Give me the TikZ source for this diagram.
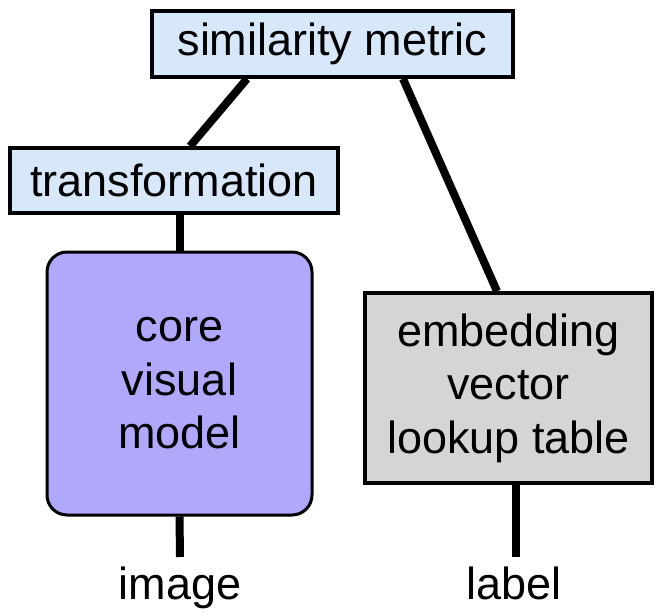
\documentclass[tikz,border=0pt]{standalone}
\usepackage{fontspec}
\setmainfont{Liberation Sans}
\definecolor{boxblue}{RGB}{214,232,250}
\definecolor{corepurple}{RGB}{176,168,250}
\definecolor{boxgray}{RGB}{213,213,213}
\begin{document}
\begin{tikzpicture}[x=1pt,y=-1pt,
  every node/.style={font=\fontsize{45}{53.5}\selectfont, inner sep=0pt},
  blbox/.style={draw=black, line width=3.5pt, fill=boxblue, minimum height=66pt},
  corebox/.style={draw=black, line width=3pt, fill=corepurple, rounded corners=20pt, align=center},
  grbox/.style={draw=black, line width=3.5pt, fill=boxgray, align=center},
  conn/.style={line width=8pt, black},
  lbl/.style={anchor=base}]
\useasboundingbox (0,0) rectangle (654,614);
\node[blbox, minimum width=361pt] (sim) at (332.5,44) {similarity metric};
\node[blbox, minimum width=328pt, minimum height=65pt] (trans) at (174,180.5) {transformation};
\node[corebox, minimum width=265pt, minimum height=263pt] (core) at (179.5,383.5) {core\\visual\\model};
\node[grbox, minimum width=287pt, minimum height=190pt] (emb) at (508.5,388) {embedding\\vector\\lookup table};
\node[lbl] (image) at (180,599) {image};
\node[lbl] (label) at (514,599) {label};
\coordinate (imgtop) at (180,557);
\coordinate (labtop) at (516,557);
\draw[conn] ([xshift=-85.5pt]sim.south) -- ([xshift=16pt]trans.north);
\draw[conn] ([xshift=70.5pt]sim.south) -- ([xshift=-11.5pt]emb.north);
\draw[conn] (trans.south -| core.north) -- (core.north);
\draw[conn] (core.south) -- (imgtop);
\draw[conn] (emb.south -| labtop) -- (labtop);
\end{tikzpicture}
\end{document}
